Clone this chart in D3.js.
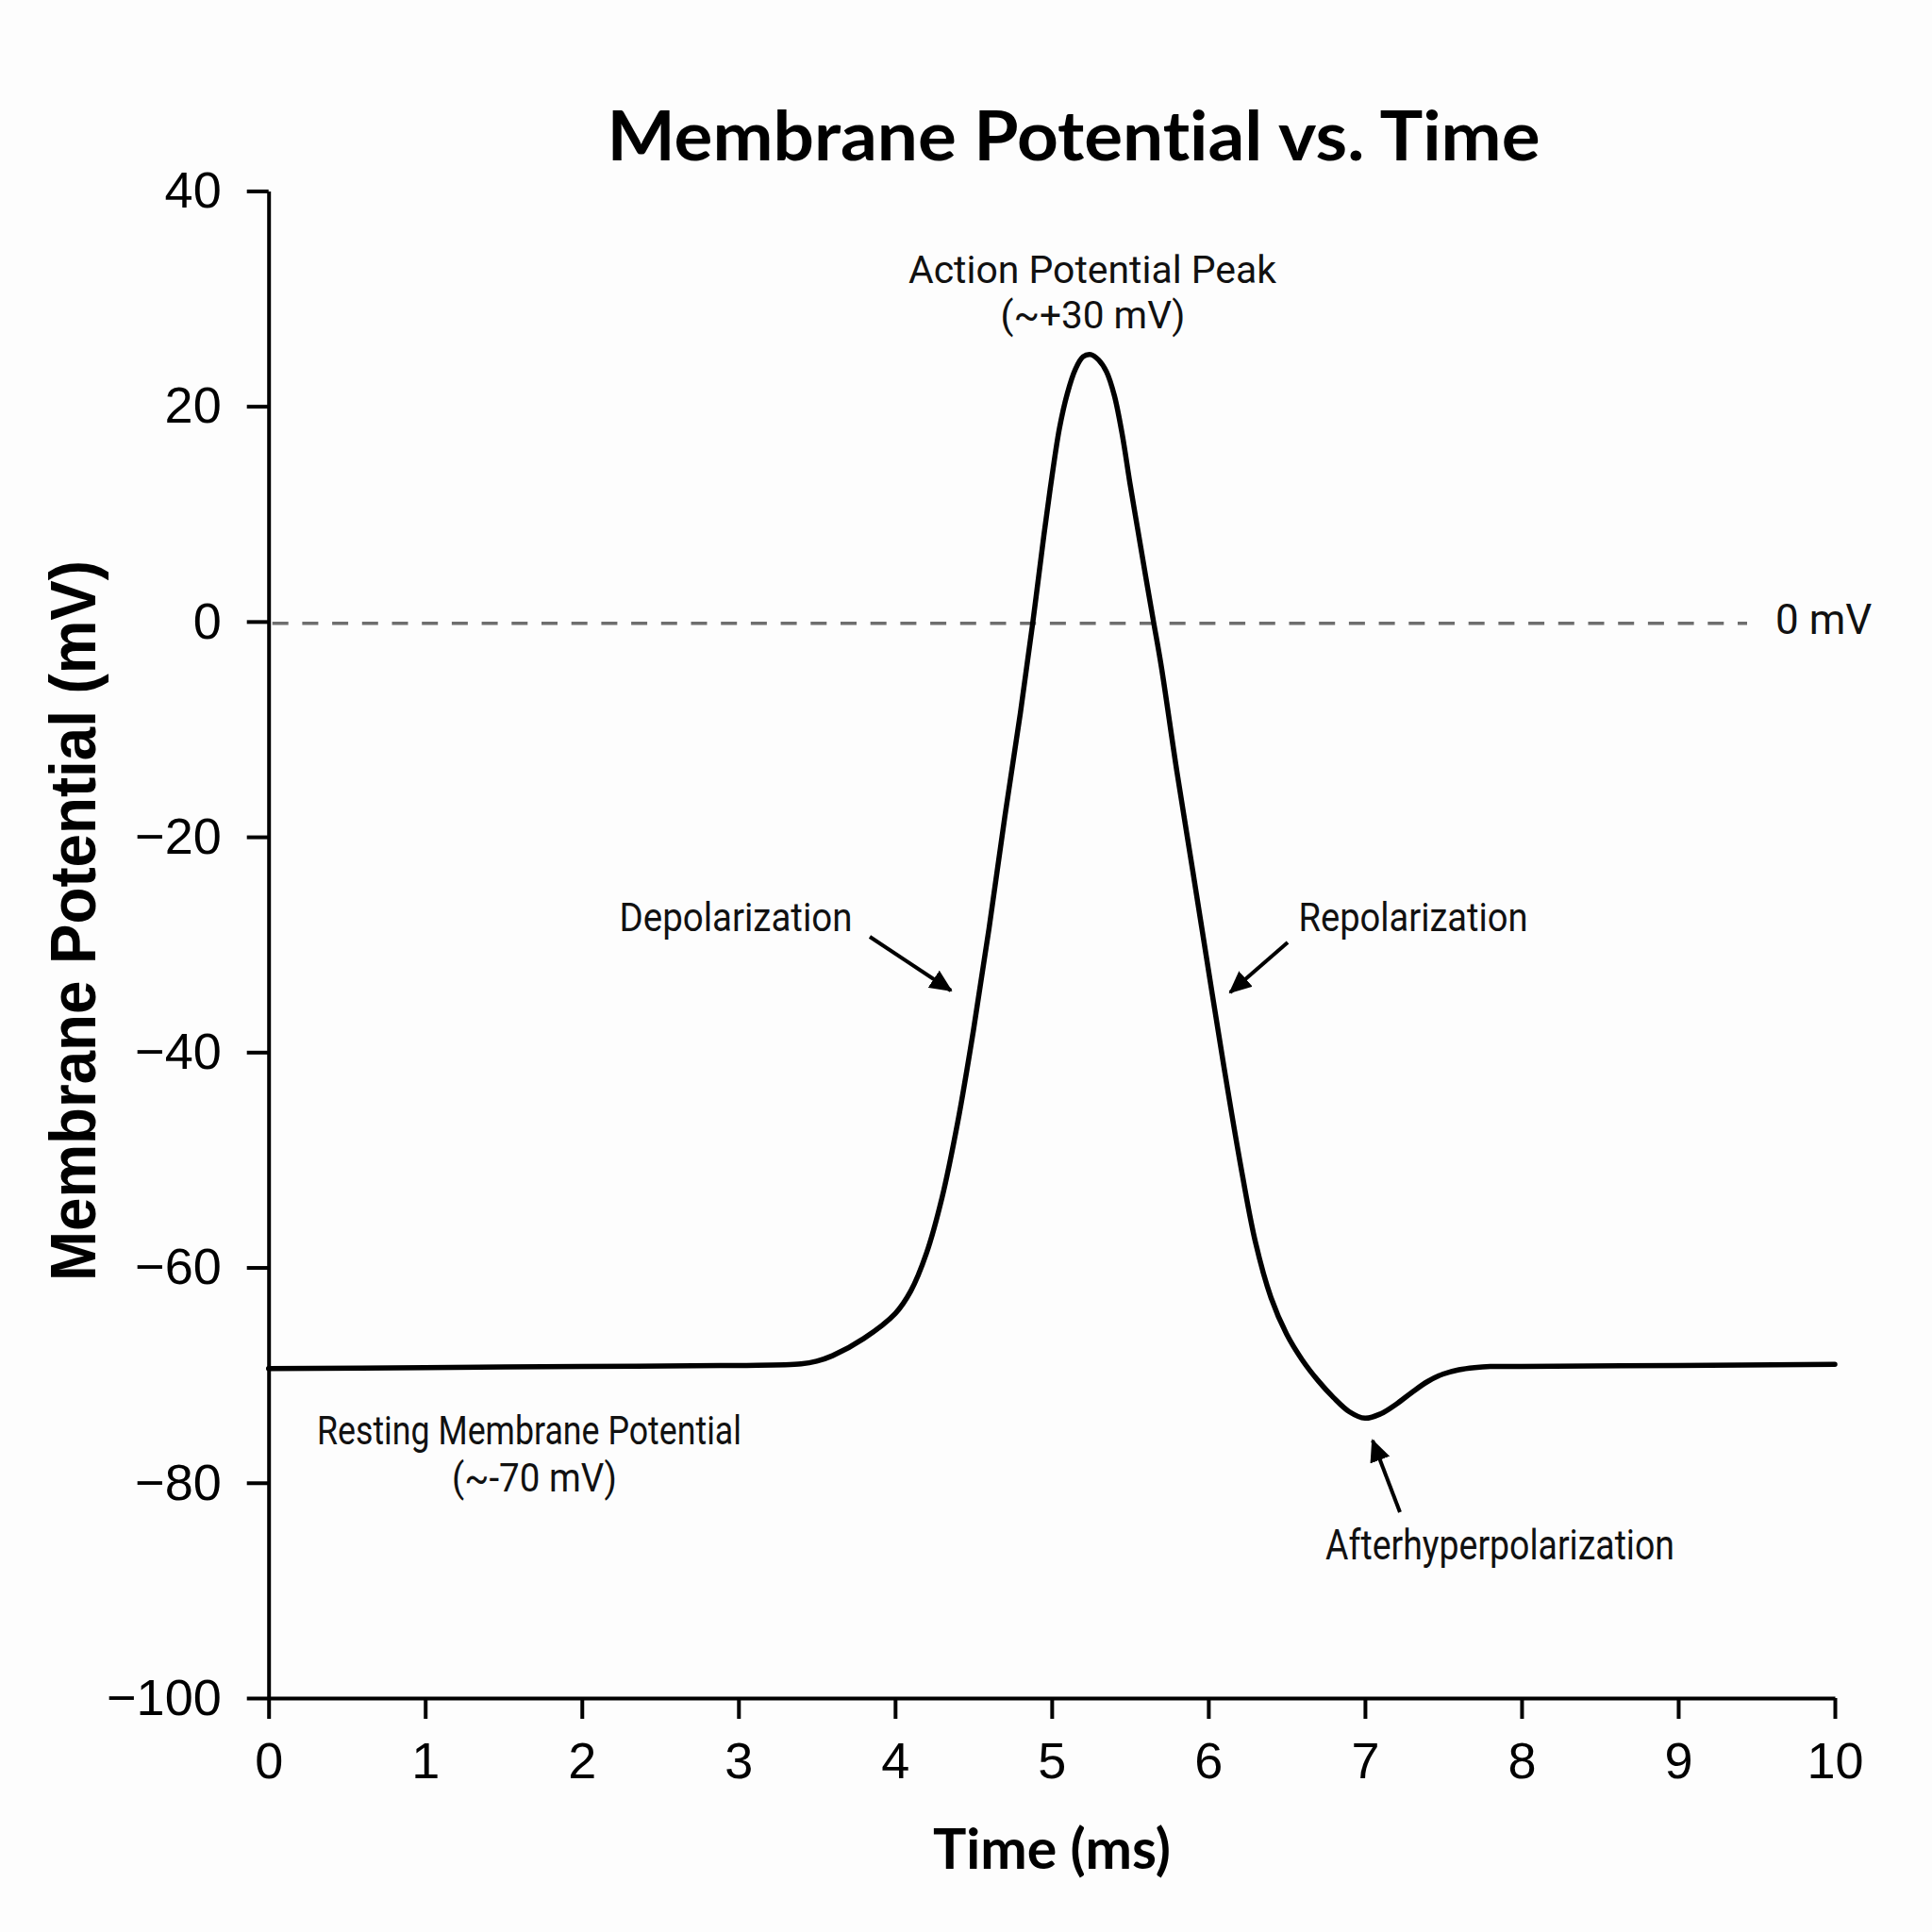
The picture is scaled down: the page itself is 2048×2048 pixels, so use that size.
<!DOCTYPE html>
<html>
<head>
<meta charset="utf-8">
<script src="https://cdn.jsdelivr.net/npm/d3@7"></script>
<style>
  html, body { margin: 0; padding: 0; background: #fdfdfd; }
  svg { display: block; }
  text { font-variant-ligatures: none; font-feature-settings: "liga" 0, "clig" 0; }
</style>
</head>
<body>
<svg id="chart" width="2048" height="2048"></svg>
<script>
// ---- data ----
const timeMs = [0, 1, 2, 3, 3.4, 3.5, 3.6, 3.8, 4.0, 4.1, 4.2, 4.3, 4.4, 4.5, 4.6, 4.7, 4.8, 4.88, 4.95, 5.0, 5.05, 5.1, 5.15, 5.2, 5.25, 5.3, 5.35, 5.4, 5.45, 5.5, 5.55, 5.6, 5.65, 5.7, 5.8, 5.9, 6.0, 6.1, 6.2, 6.3, 6.4, 6.5, 6.6, 6.7, 6.8, 6.9, 7.0, 7.1, 7.2, 7.3, 7.4, 7.5, 7.6, 7.7, 7.8, 8, 9, 10];
const potentialMv = [-69.4, -69.3, -69.2, -69.1, -68.95, -68.7, -68.2, -66.6, -64.3, -62.2, -58.7, -53.5, -46.5, -38.0, -28.5, -18.2, -8.5, 0, 8.0, 13.3, 18.0, 21.2, 23.4, 24.6, 24.8, 24.3, 23.2, 21.0, 17.4, 12.8, 8.5, 4.2, 0, -4.2, -14.0, -23.1, -32.3, -41.4, -50.0, -57.6, -62.8, -66.2, -68.6, -70.5, -72.1, -73.4, -74.0, -73.6, -72.7, -71.6, -70.6, -69.9, -69.5, -69.3, -69.2, -69.2, -69.1, -69.0];
const xTicks = [0, 1, 2, 3, 4, 5, 6, 7, 8, 9, 10];
const yTicks = [40, 20, 0, -20, -40, -60, -80, -100];
const xDomain = [0, 10];
const yDomain = [-100, 40];
const referenceLevel = 0;
const titleText = "Membrane Potential vs. Time";
const xLabelText = "Time (ms)";
const yLabelText = "Membrane Potential (mV)";
const refLabelText = "0 mV";
const peakLabel = ["Action Potential Peak", "(~+30 mV)"];
const restLabel = ["Resting Membrane Potential", "(~-70 mV)"];
const depolLabel = "Depolarization";
const repolLabel = "Repolarization";
const ahpLabel = "Afterhyperpolarization";

// ---- layout ----
const svg = d3.select("#chart");
const x = d3.scaleLinear().domain(xDomain).range([284.7, 1945]);
const y = d3.scaleLinear().domain(yDomain).range([1800, 202.4]);

const data = timeMs.map((t, i) => ({ t, v: potentialMv[i] }));

// arrow marker
const defs = svg.append("defs");
defs.append("marker")
  .attr("id", "arrow")
  .attr("markerUnits", "userSpaceOnUse")
  .attr("viewBox", "0 0 24 22")
  .attr("markerWidth", 24)
  .attr("markerHeight", 22)
  .attr("refX", 22)
  .attr("refY", 11)
  .attr("orient", "auto")
  .append("path")
  .attr("d", "M0,0 L24,11 L0,22 Z")
  .attr("fill", "#000");

// reference dashed line at 0 mV
svg.append("line")
  .attr("x1", x(0) + 4).attr("x2", 1852)
  .attr("y1", y(referenceLevel) + 2).attr("y2", y(referenceLevel) + 2)
  .attr("stroke", "#6e6e6e")
  .attr("stroke-width", 3.5)
  .attr("stroke-dasharray", "17,14.7");

svg.append("text")
  .attr("x", 1882).attr("y", 672)
  .attr("font-family", "Roboto, 'Liberation Sans', sans-serif")
  .attr("font-size", 44)
  .attr("fill", "#111")
  .text(refLabelText);

// axes
const yAxis = d3.axisLeft(y).tickValues(yTicks).tickSize(23).tickSizeOuter(0).tickPadding(27)
  .tickFormat(d => d < 0 ? "\u2212" + Math.abs(d) : String(d));
const xAxis = d3.axisBottom(x).tickValues(xTicks).tickSize(22).tickSizeOuter(0).tickPadding(25)
  .tickFormat(d3.format("d"));

const gy = svg.append("g").attr("transform", `translate(${x(0)},0)`).call(yAxis);
const gx = svg.append("g").attr("transform", `translate(0,${y(-100)})`).call(xAxis);

[gx, gy].forEach(g => {
  g.select(".domain").attr("stroke", "#000").attr("stroke-width", 4);
  g.selectAll(".tick line").attr("stroke", "#000").attr("stroke-width", 4);
  g.selectAll(".tick text")
    .attr("fill", "#000")
    .attr("font-family", "'Liberation Sans', Arial, sans-serif")
    .attr("font-size", 54);
});

// curve
const line = d3.line().x(d => x(d.t)).y(d => y(d.v)).curve(d3.curveCatmullRom.alpha(0.5));
svg.append("path")
  .datum(data)
  .attr("d", line)
  .attr("fill", "none")
  .attr("stroke", "#000")
  .attr("stroke-width", 5.5)
  .attr("stroke-linejoin", "round")
  .attr("stroke-linecap", "round");

// title & axis labels
svg.append("text")
  .attr("x", 1138).attr("y", 170)
  .attr("text-anchor", "middle")
  .attr("font-family", "Lato, 'Open Sans', sans-serif")
  .attr("font-weight", 700)
  .attr("font-size", 72)
  .attr("textLength", 989).attr("lengthAdjust", "spacingAndGlyphs")
  .attr("fill", "#000")
  .text(titleText);

svg.append("text")
  .attr("x", 1115).attr("y", 1981)
  .attr("text-anchor", "middle")
  .attr("font-family", "Lato, 'Open Sans', sans-serif")
  .attr("font-weight", 700)
  .attr("font-size", 59)
  .attr("textLength", 252).attr("lengthAdjust", "spacingAndGlyphs")
  .attr("fill", "#000")
  .text(xLabelText);

svg.append("text")
  .attr("transform", "translate(101,976) rotate(-90)")
  .attr("text-anchor", "middle")
  .attr("font-family", "'Liberation Sans', Arial, sans-serif")
  .attr("font-weight", 700)
  .attr("font-size", 68)
  .attr("textLength", 764).attr("lengthAdjust", "spacingAndGlyphs")
  .attr("fill", "#000")
  .text(yLabelText);

// annotations
function ann(txt, cx, base, width, size) {
  svg.append("text")
    .attr("x", cx).attr("y", base)
    .attr("text-anchor", "middle")
    .attr("font-family", "Roboto, 'Liberation Sans', sans-serif")
    .attr("font-size", size)
    .attr("textLength", width).attr("lengthAdjust", "spacingAndGlyphs")
    .attr("fill", "#111")
    .text(txt);
}
ann(peakLabel[0], 1158, 300, 390, 41);
ann(peakLabel[1], 1158.5, 348, 196, 41);
ann(restLabel[0], 561, 1531, 450, 43);
ann(restLabel[1], 566.5, 1581, 175, 43);
ann(depolLabel, 780, 987, 247, 42);
ann(repolLabel, 1498, 987, 243, 42);
ann(ahpLabel, 1590, 1653, 370, 44);

function arrow(x1, y1, x2, y2) {
  svg.append("line")
    .attr("x1", x1).attr("y1", y1).attr("x2", x2).attr("y2", y2)
    .attr("stroke", "#000").attr("stroke-width", 4)
    .attr("marker-end", "url(#arrow)");
}
arrow(922, 993, 1008, 1050);
arrow(1365, 999, 1304, 1052);
arrow(1484, 1603, 1455, 1527);
</script>
</body>
</html>
